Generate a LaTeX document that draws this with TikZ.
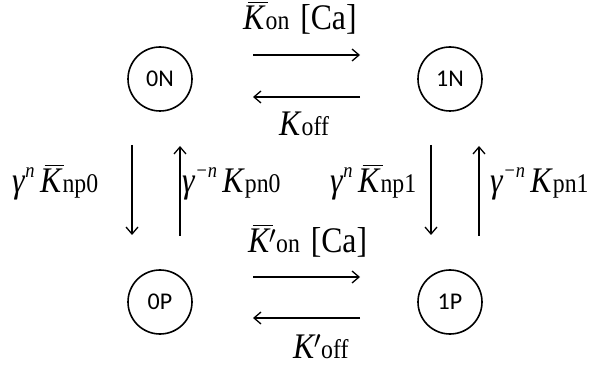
\documentclass[tikz,border=0pt]{standalone}
\usepackage{fontspec}
\setmainfont[FakeStretch=0.88]{Liberation Serif}
\newfontfamily\circfont{Carlito}
\usetikzlibrary{arrows.meta}
\newcommand{\Kb}{\makebox[0pt][l]{\hspace{0.13em}\rule[0.74em]{0.55em}{0.045em}}\textit{K}}
\newcommand{\Kp}{\textit{K}\kern-0.05em\ensuremath{'}}
\newcommand{\Kbp}{\Kb\kern-0.05em\ensuremath{'}}
\newcommand{\sub}[1]{{\fontsize{27}{27}\selectfont #1}}
\newcommand{\gup}[1]{\textit{γ}\raisebox{0.42em}{\fontsize{21}{21}\selectfont\itshape #1}\hspace{0.15em}}
\begin{document}
\begin{tikzpicture}[x=1pt,y=-1pt,
  state/.style={circle,draw,line width=1.6pt,minimum size=64pt,inner sep=0pt,font=\circfont\fontsize{24}{24}\selectfont},
  rate/.style={line width=1.3pt,-{Straight Barb[length=7pt,width=12pt,line width=1.3pt]}},
  lbl/.style={inner sep=0pt,font=\fontsize{36}{36}\selectfont}]
\useasboundingbox (0,0) rectangle (613,371);
\node[state] (n0N) at (160,79) {0N};
\node[state] (n1N) at (450,79) {1N};
\node[state] (n0P) at (160,302) {0P};
\node[state] (n1P) at (450,302) {1P};
% horizontal arrow ends
\coordinate (a1s) at (253,55);  \coordinate (a1e) at (360,55);
\coordinate (a2s) at (360,97);  \coordinate (a2e) at (253,97);
\coordinate (a3s) at (253,277); \coordinate (a3e) at (360,277);
\coordinate (a4s) at (360,318); \coordinate (a4e) at (253,318);
% vertical arrow ends
\coordinate (v1s) at (132,145); \coordinate (v1e) at (132,235);
\coordinate (v2s) at (180,236); \coordinate (v2e) at (180,146);
\coordinate (v3s) at (431,145); \coordinate (v3e) at (431,235);
\coordinate (v4s) at (479,236); \coordinate (v4e) at (479,146);
\draw[rate] (a1s) -- (a1e);
\draw[rate] (a2s) -- (a2e);
\draw[rate] (a3s) -- (a3e);
\draw[rate] (a4s) -- (a4e);
\draw[rate] (v1s) -- (v1e);
\draw[rate] (v2s) -- (v2e);
\draw[rate] (v3s) -- (v3e);
\draw[rate] (v4s) -- (v4e);
% labels
\node[lbl,anchor=base west] (lon) at (243,30) {\Kb\sub{on}\hspace{0.3em}[Ca]};
\node[lbl,anchor=base west] (loff) at (279,136) {\textit{K}\sub{off}};
\node[lbl,anchor=base west] (lonp) at (248,253) {\Kbp\sub{on}\hspace{0.3em}[Ca]};
\node[lbl,anchor=base west] (loffp) at (293,358) {\Kp\sub{off}};
\node[lbl,anchor=base west] (lnp0) at (12,193) {\gup{n}\Kb\sub{np0}};
\node[lbl,anchor=base west] (lpn0) at (182,193) {\gup{−n}\textit{K}\sub{pn0}};
\node[lbl,anchor=base west] (lnp1) at (330,193) {\gup{n}\Kb\sub{np1}};
\node[lbl,anchor=base west] (lpn1) at (490,193) {\gup{−n}\textit{K}\sub{pn1}};
\end{tikzpicture}
\end{document}
